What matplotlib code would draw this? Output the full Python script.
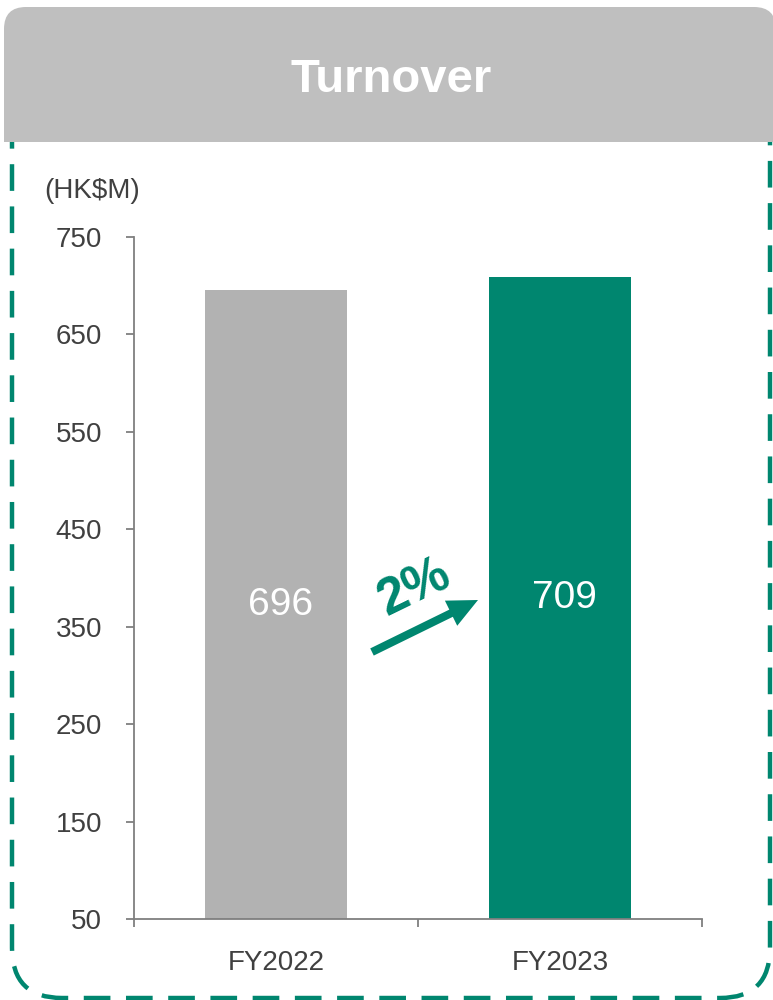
import matplotlib
matplotlib.use("Agg")
import matplotlib.pyplot as plt
from matplotlib.patches import FancyBboxPatch, Rectangle, FancyArrow

plt.rcParams["font.family"] = ["Liberation Sans", "DejaVu Sans"]

# data
years = ["FY2022", "FY2023"]
turnover = [696, 709]
bar_colors = ["#B2B2B2", "#00866F"]
y_ticks = [50, 150, 250, 350, 450, 550, 650, 750]

TEAL = "#00866F"
TEXT = "#404040"

fig = plt.figure(figsize=(7.73, 10), dpi=100)

# background layer in pixel coordinates (y downwards)
bg = fig.add_axes([0, 0, 1, 1], zorder=0)
bg.set_xlim(0, 773)
bg.set_ylim(1000, 0)
bg.axis("off")

# dashed rounded frame
frame = FancyBboxPatch((12, 90), 758, 908, boxstyle="round,pad=0,rounding_size=50",
                       fill=False, edgecolor=TEAL, linewidth=3.2, linestyle=(0, (6, 3.5)))
bg.add_patch(frame)

# header with rounded top corners
header = FancyBboxPatch((4, 7), 772, 135, boxstyle="round,pad=0,rounding_size=22",
                        facecolor="#BFBFBF", edgecolor="none")
bg.add_patch(header)
bg.add_patch(Rectangle((4, 90), 772, 52, facecolor="#BFBFBF", edgecolor="none"))
bg.text(391, 80, "Turnover", ha="center", va="center", fontsize=34,
        fontweight="bold", color="white")

bg.text(44, 191, "(HK$M)", ha="left", va="center", fontsize=20, color=TEXT)

# growth arrow and label
bg.add_patch(FancyArrow(372, 652, 106, -52, width=8, head_width=28, head_length=30,
                        length_includes_head=True, color=TEAL, linewidth=0))
growth = (turnover[1] - turnover[0]) / turnover[0] * 100
bg.text(414, 588, f"{growth:.0f}%", ha="center", va="center", rotation=26,
        rotation_mode="anchor", fontsize=37, fontweight="bold", color=TEAL)

# chart
ax = fig.add_axes([134 / 773, 81 / 1000, 568 / 773, 682 / 1000], zorder=1)
ax.patch.set_alpha(0)
x = range(len(years))
ax.bar(x, [v - 50 for v in turnover], bottom=50, width=0.5, color=bar_colors)
for xi, v in zip(x, turnover):
    ax.text(xi + 0.015, v * 0.535, str(v), ha="center", va="center", fontsize=28, color="white")

ax.set_xlim(-0.5, 1.5)
ax.set_ylim(50, 750)
ax.set_yticks(y_ticks)
ax.set_xticks(list(x))
ax.set_xticklabels(years)
ax.set_xticks([-0.5, 0.5, 1.5], minor=True)
ax.tick_params(axis="x", which="major", length=0, pad=22, labelsize=20, labelcolor=TEXT)
ax.tick_params(axis="x", which="minor", length=6, width=1.3, color="#7F7F7F", direction="out")
ax.tick_params(axis="y", length=6, width=1.3, color="#7F7F7F", pad=17, labelsize=20, labelcolor=TEXT)
for s in ["top", "right"]:
    ax.spines[s].set_visible(False)
for s in ["left", "bottom"]:
    ax.spines[s].set_color("#7F7F7F")
    ax.spines[s].set_linewidth(1.3)

fig.savefig("out.png", dpi=100)
